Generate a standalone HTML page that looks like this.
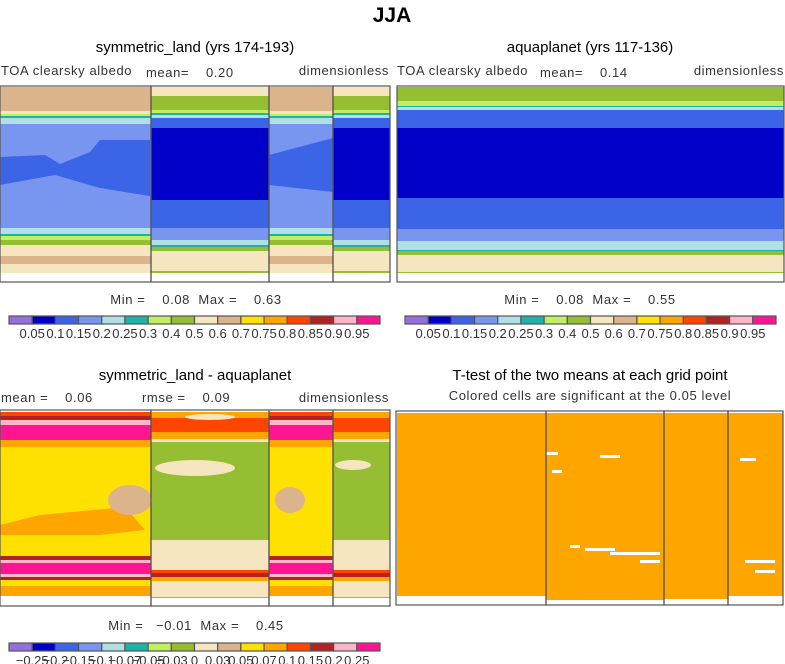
<!DOCTYPE html>
<html><head><meta charset="utf-8">
<style>
html,body{margin:0;padding:0;background:#fff;}
svg{display:block;font-family:"Liberation Sans",sans-serif;}
text{white-space:pre;}
</style></head>
<body>
<svg id="s" width="785" height="664" viewBox="0 0 785 664" xmlns="http://www.w3.org/2000/svg">
<text x="392" y="22" text-anchor="middle" font-size="21" font-weight="bold">JJA</text>
<text x="195" y="52" text-anchor="middle" font-size="15">symmetric_land (yrs 174-193)</text>
<text x="590" y="52" text-anchor="middle" font-size="15">aquaplanet (yrs 117-136)</text>
<text x="195" y="380" text-anchor="middle" font-size="15">symmetric_land - aquaplanet</text>
<text x="590" y="380" text-anchor="middle" font-size="15">T-test of the two means at each grid point</text>
<g font-size="13" fill="#333" letter-spacing="0.6">
<text x="1" y="75">TOA clearsky albedo</text>
<text x="146" y="77">mean=    0.20</text>
<text x="389" y="75" text-anchor="end">dimensionless</text>
<text x="397" y="75">TOA clearsky albedo</text>
<text x="540" y="77">mean=    0.14</text>
<text x="784" y="75" text-anchor="end">dimensionless</text>
<text x="1" y="402">mean =    0.06</text>
<text x="142" y="402">rmse =    0.09</text>
<text x="389" y="402" text-anchor="end">dimensionless</text>
<text x="590" y="400" text-anchor="middle">Colored cells are significant at the 0.05 level</text>
<text x="196" y="304" text-anchor="middle">Min =    0.08  Max =    0.63</text>
<text x="590" y="304" text-anchor="middle">Min =    0.08  Max =    0.55</text>
<text x="196" y="630" text-anchor="middle">Min =   −0.01  Max =    0.45</text>
</g>
<g id="plots"></g>
</svg>
<script>
const colors=["#9370db","#0000c8","#3c64e6","#7896f0","#b0e0e6","#20b2aa","#c0f060","#96be32","#f5e6c0","#dcb48c","#ffe100","#ffa500","#ff4500","#b22222","#ffb4c8","#ff1493"];
const levelsAbs=["0.05","0.1","0.15","0.2","0.25","0.3","0.4","0.5","0.6","0.7","0.75","0.8","0.85","0.9","0.95"];
const levelsDiff=["−0.25","−0.2","−0.15","−0.1","−0.07","−0.05","−0.03","0","0.03","0.05","0.07","0.1","0.15","0.2","0.25"];
// bands: [yTop, yBottom, colorIndex] per region type
const landAbs=[[87,111,9],[111,114,8],[114,116,6],[116,118,5],[118,124,4],[124,273,3],[228,234,4],[234,236,5],[236,240,6],[240,245,7],[245,256,8],[256,264,9],[264,273,8]];
const oceanAbs=[[87,96,8],[96,110,7],[110,113,6],[113,115,5],[115,118,4],[118,128,2],[128,200,1],[200,228,2],[228,240,3],[240,245,4],[245,247,5],[247,251,7],[251,271,8],[271,273,7]];
const aquaAbs=[[87,101,7],[101,106,6],[106,107,5],[107,110,4],[110,128,2],[128,198,1],[198,229,2],[229,241,3],[241,250,4],[250,251,5],[251,255,7],[255,272,8],[272,273,7]];
const landDiff=[[412,416,12],[416,420,13],[420,425,14],[425,440,15],[440,447,11],[447,560,10],[556,560,13],[560,563,14],[563,574,15],[574,577,14],[577,580,13],[580,586,10],[586,596,11]];
const oceanDiff=[[412,418,11],[418,432,12],[432,439,11],[439,442,8],[442,540,7],[540,570,8],[570,573,12],[573,577,13],[577,581,11],[581,597,8],[597,598,7]];
const landCols=[[0,151],[269,333]];
const oceanCols=[[151,269],[333,390]];
const sigGaps=[[546,452,12],[552,470,10],[600,455,20],[570,545,10],[585,548,30],[610,552,50],[640,560,20],[740,458,16],[745,560,30],[755,570,20],[550,408,3]];
const NS="http://www.w3.org/2000/svg";
const P=document.getElementById('plots');
function rect(x,y,w,h,fill,name,stroke){
  const r=document.createElementNS(NS,'rect');
  r.setAttribute('x',x);r.setAttribute('y',y);r.setAttribute('width',w);r.setAttribute('height',h);
  r.setAttribute('fill',fill);
  if(stroke){r.setAttribute('stroke',stroke);r.setAttribute('stroke-width',1.2);}
  
  
  P.appendChild(r);return r;
}
function ell(cx,cy,rx,ry,fill,name){
  const e=document.createElementNS(NS,'ellipse');
  e.setAttribute('cx',cx);e.setAttribute('cy',cy);e.setAttribute('rx',rx);e.setAttribute('ry',ry);e.setAttribute('fill',fill);
  
  
  P.appendChild(e);
}
function poly(pts,fill,name){
  const e=document.createElementNS(NS,'polygon');
  e.setAttribute('points',pts);e.setAttribute('fill',fill);
  
  
  P.appendChild(e);
}
function bands(cols,list,name){
  cols.forEach(c=>list.forEach(b=>rect(c[0],b[0],c[1]-c[0],b[1]-b[0],colors[b[2]],name)));
}
// panel 1
rect(0,86,390,196,'#fff','panel1-bg');
bands(landCols,landAbs,'contour-band');
bands(oceanCols,oceanAbs,'contour-band');
poly('0,157 45,155 60,164 90,152 100,140 150,140 150,196 100,188 55,175 0,185',colors[2],'contour-band');
poly('269,155 333,138 333,192 269,185',colors[2],'contour-band');
// panel 2
rect(397,86,387,196,'#fff','panel2-bg');
bands([[397,784]],aquaAbs,'contour-band');
// panel 3
rect(0,410,390,196,'#fff','panel3-bg');
bands(landCols,landDiff,'contour-band');
bands(oceanCols,oceanDiff,'contour-band');
poly('0,525 40,515 125,507 145,530 100,535 0,535',colors[11],'contour-band');
ell(130,500,22,15,colors[9],'contour-band');
ell(290,500,15,13,colors[9],'contour-band');ell(195,468,40,8,colors[8],'contour-band');
ell(353,465,18,5,colors[8],'contour-band');ell(210,417,25,3,colors[8],'contour-band');
// panel4
rect(396,411,387,194,'#fff','panel4-bg');
rect(397,413,386,183,colors[11],'significant-cells');
rect(546,596,118,4,colors[11],'significant-cells');rect(664,596,64,3,colors[11],'significant-cells');
sigGaps.forEach(g=>rect(g[0],g[1],g[2],3,'#fff','insignificant-cell'));
// frame outlines
[[0,86,151,196],[151,86,118,196],[269,86,64,196],[333,86,57,196],[397,86,387,196],
 [0,410,151,196],[151,410,118,196],[269,410,64,196],[333,410,57,196],
 [396,411,150,194],[546,411,118,194],[664,411,64,194],[728,411,55,194]].forEach(f=>{
  rect(f[0],f[1],f[2],f[3],'none','map-frame','#555');});
// colorbars
function cbar(x0,y,labels,name){
  const w=(371)/16;
  colors.forEach((c,i)=>rect(x0+i*w,y,w,8,c,name+'-box','#555'));
  labels.forEach((l,i)=>{
    const t=document.createElementNS(NS,'text');
    t.setAttribute('x',x0+(i+1)*w);t.setAttribute('y',y+22);t.setAttribute('text-anchor','middle');
    t.setAttribute('font-size','13');t.setAttribute('fill','#333');t.textContent=l;
    
    
    document.getElementById('s').appendChild(t);
  });
}
cbar(9,316,levelsAbs,'colorbar1');
cbar(405,316,levelsAbs,'colorbar2');
cbar(9,643,levelsDiff,'colorbar3');
</script>
</body></html>
